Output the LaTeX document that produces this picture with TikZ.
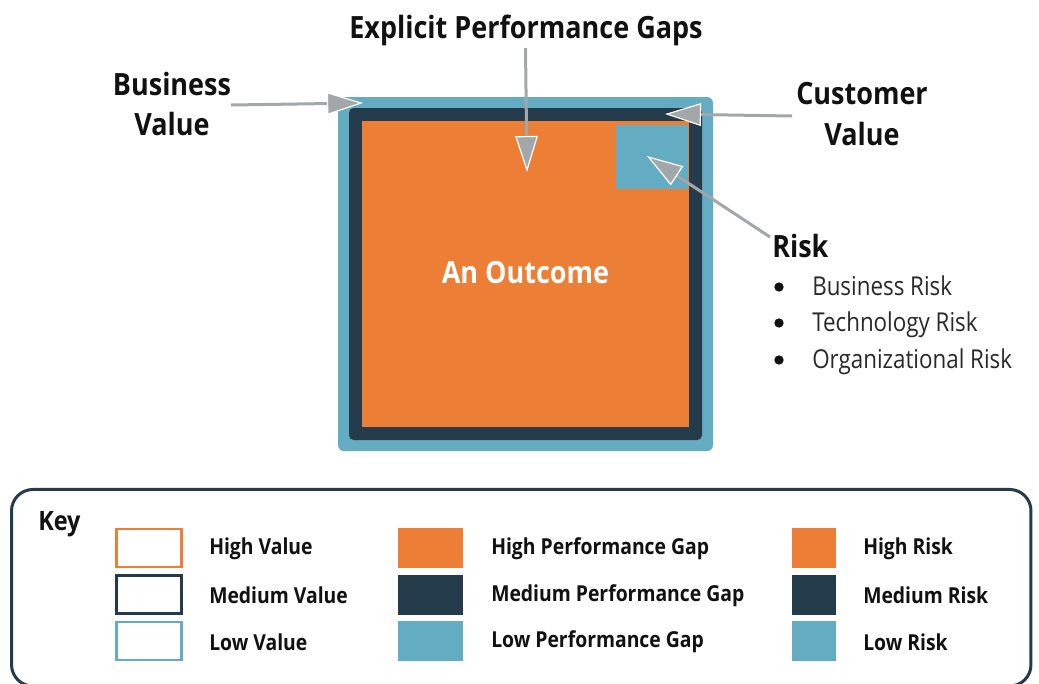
\documentclass[tikz,border=0pt]{standalone}
\usepackage{fontspec}
\setmainfont{Open Sans}[FakeStretch=0.88]
\newfontfamily\itemfont{Open Sans}[FakeStretch=0.86]
\usetikzlibrary{arrows.meta}
\definecolor{cOrange}{HTML}{EC7E35}
\definecolor{cNavy}{HTML}{243B4B}
\definecolor{cBlue}{HTML}{64ACC1}
\definecolor{cGray}{HTML}{A3A7AA}
\definecolor{cText}{HTML}{111111}
\tikzset{
  lbl/.style={font=\fontsize{23}{30.5}\selectfont\bfseries, text=cText, inner sep=0pt, align=center},
  keylbl/.style={font=\fontsize{16.5}{20}\selectfont\bfseries, text=cText, anchor=west, inner sep=0pt},
  itemlbl/.style={font=\itemfont\fontsize{19.5}{23}\selectfont, text=cText!90, anchor=base west, inner sep=0pt},
  bul/.style={circle, fill=cText, inner sep=0pt, minimum size=7pt},
  ptr/.style={draw=cGray, line width=2.25pt,
    -{Triangle[length=27pt,width=17pt,fill=cGray,color=white,line width=0.9pt]}},
  sq/.style={inner sep=0pt, draw=none},
  swout/.style={sq, draw, line width=1.9pt, minimum width=48.5pt, minimum height=28.5pt},
  swgap/.style={sq, minimum width=48.75pt, minimum height=30pt},
  swrisk/.style={sq, minimum width=33pt, minimum height=30pt},
}
\begin{document}
\begin{tikzpicture}[x=0.75pt,y=-0.75pt]
\useasboundingbox (0,0) rectangle (1039,683);

% main outcome boxes
\node[sq, fill=cBlue, rounded corners=4.5pt, minimum width=281.25pt, minimum height=265.5pt] (outer) at (525.5,274) {};
\node[sq, fill=cNavy, rounded corners=3.5pt, minimum width=264.75pt, minimum height=249pt] (mid) at (525.5,274) {};
\node[sq, fill=cOrange, minimum width=245.25pt, minimum height=229.5pt] (inner) at (525.5,274) {};
\node[sq, fill=cBlue, minimum width=54pt, minimum height=48pt] (riskbox) at (652,157) {};
\node[lbl, text=white] (outcome) at (525.5,273) {An Outcome};

% labels
\node[lbl, anchor=base] (epg) at (526,38) {Explicit Performance Gaps};
\node[lbl] (bv) at (172,104) {Business\\Value};
\node[lbl] (cv) at (862,114) {Customer\\Value};
\node[lbl, anchor=base west] (risk) at (772,257) {Risk};
\node[bul] (b1) at (779,287) {};
\node[bul] (b2) at (779,323) {};
\node[bul] (b3) at (779,360) {};
\node[itemlbl] (r1) at (812,295) {Business Risk};
\node[itemlbl] (r2) at (812,331) {Technology Risk};
\node[itemlbl] (r3) at (812,368) {Organizational Risk};

% arrows
\coordinate (bvs) at (231,105);
\coordinate (bvt) at (363,103);
\coordinate (epgs) at (525.5,48);
\coordinate (epgt) at (527,172);
\coordinate (cvs) at (792,116);
\coordinate (cvt) at (665,114);
\coordinate (rks) at (770,237);
\coordinate (rkt) at (647,156);
\draw[ptr] (bvs) -- (bvt);
\draw[ptr] (epgs) -- (epgt);
\draw[ptr] (cvs) -- (cvt);
\draw[ptr] (rks) -- (rkt);

% key
\node[sq, draw=cNavy, line width=2.25pt, rounded corners=16pt, minimum width=764.6pt, minimum height=147.4pt] (key) at (521.25,587.75) {};
\node[font=\fontsize{20}{24}\selectfont\bfseries, text=cText, anchor=base west, inner sep=0pt] (keyt) at (38,530) {Key};

\node[swout, draw=cOrange] (v1) at (149,548) {};
\node[swout, draw=cNavy] (v2) at (149,594.5) {};
\node[swout, draw=cBlue] (v3) at (149,641) {};
\node[keylbl] (v1t) at (209,549) {High Value};
\node[keylbl] (v2t) at (209,595.5) {Medium Value};
\node[keylbl] (v3t) at (209,642) {Low Value};

\node[swgap, fill=cOrange] (g1) at (430.5,548) {};
\node[swgap, fill=cNavy] (g2) at (430.5,594.5) {};
\node[swgap, fill=cBlue] (g3) at (430.5,641) {};
\node[keylbl] (g1t) at (491,549) {High Performance Gap};
\node[keylbl] (g2t) at (491,595.5) {Medium Performance Gap};
\node[keylbl] (g3t) at (491,642) {Low Performance Gap};

\node[swrisk, fill=cOrange] (k1) at (814,548) {};
\node[swrisk, fill=cNavy] (k2) at (814,594.5) {};
\node[swrisk, fill=cBlue] (k3) at (814,641) {};
\node[keylbl] (k1t) at (863,549) {High Risk};
\node[keylbl] (k2t) at (863,595.5) {Medium Risk};
\node[keylbl] (k3t) at (863,642) {Low Risk};
\end{tikzpicture}
\end{document}
